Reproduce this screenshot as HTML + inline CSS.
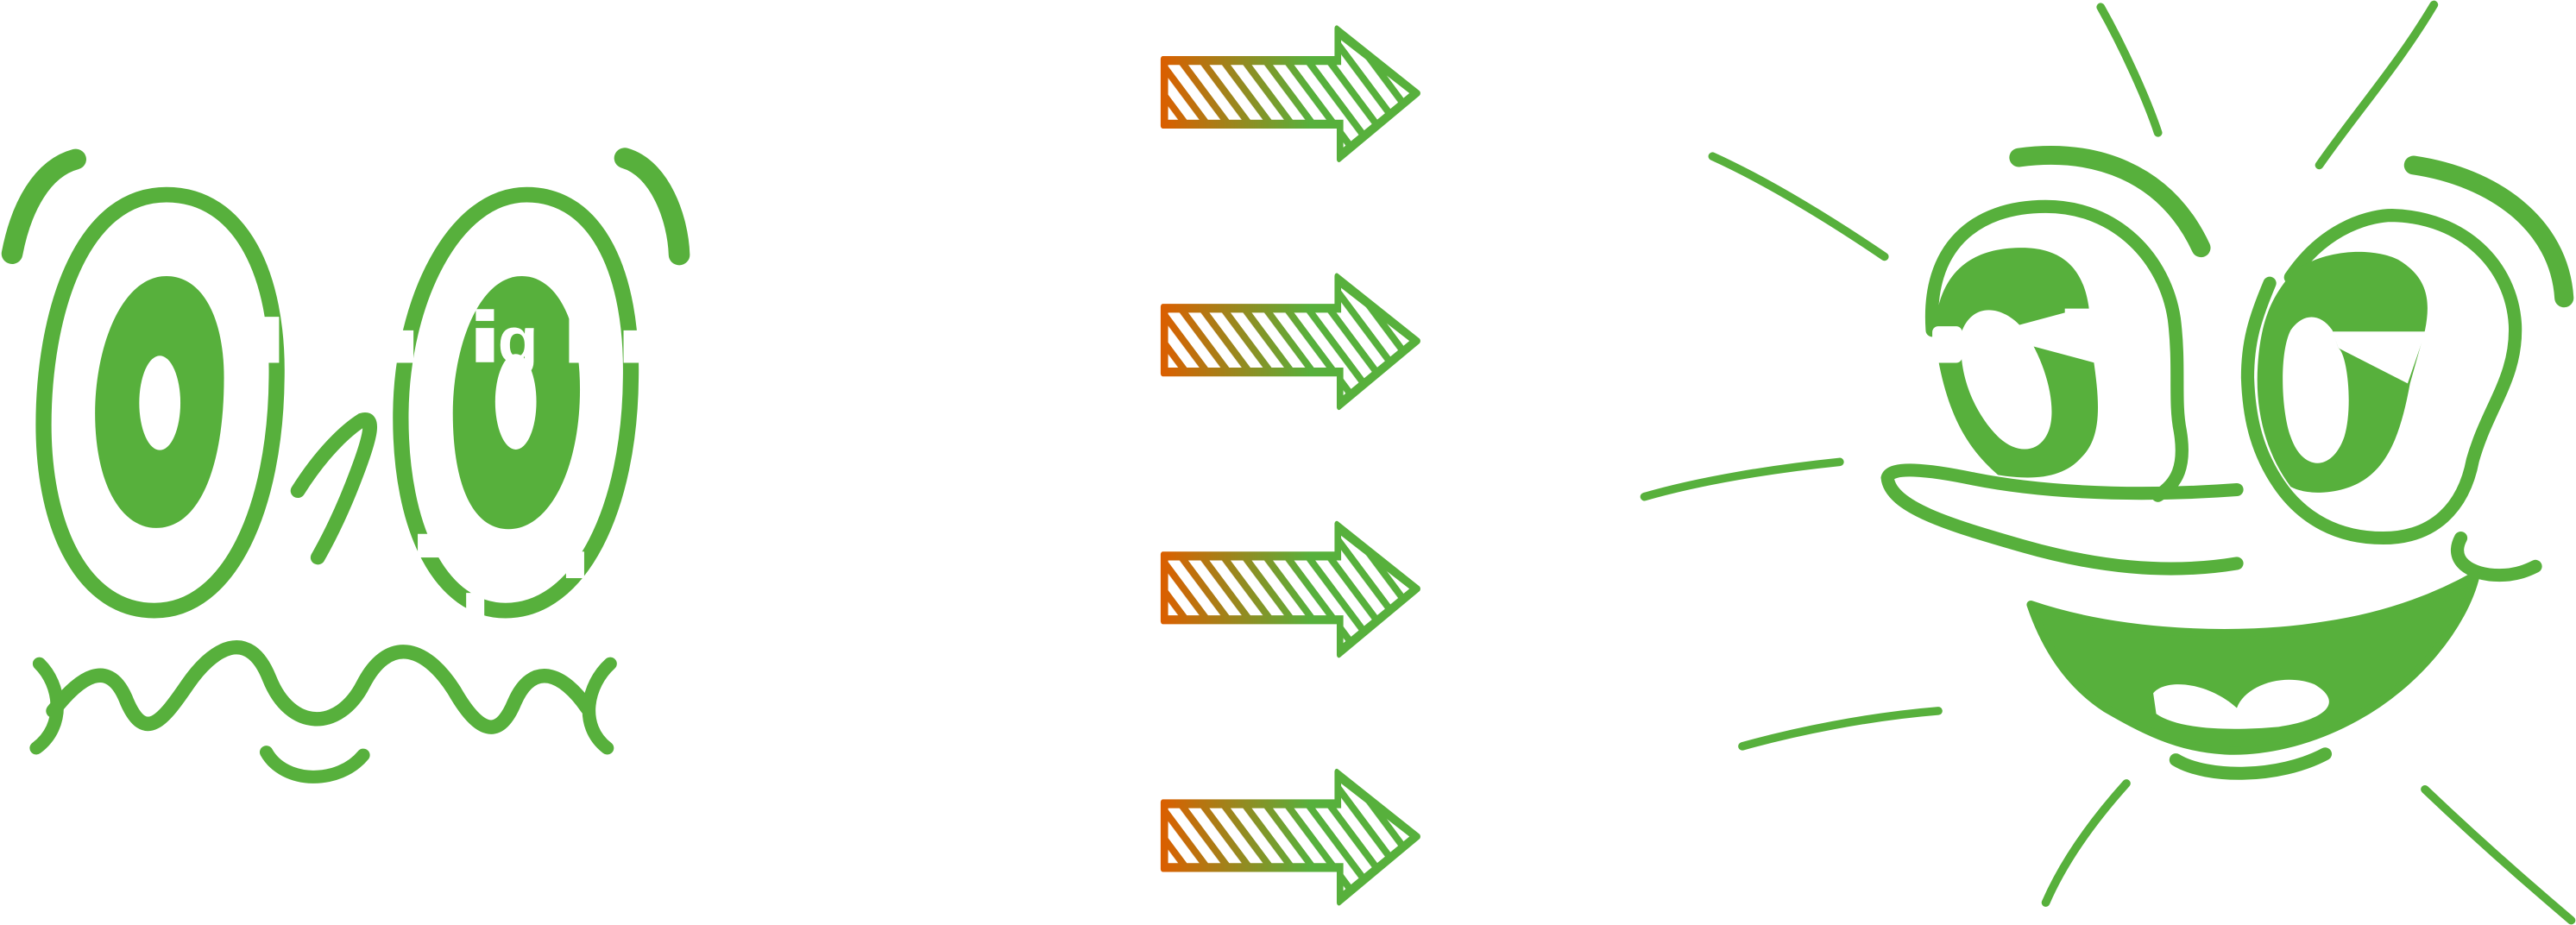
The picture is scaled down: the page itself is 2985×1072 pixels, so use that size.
<!DOCTYPE html>
<html><head><meta charset="utf-8"><style>
html,body{margin:0;padding:0;background:#fff;}
svg{display:block;}
</style></head><body>
<svg width="2985" height="1072" viewBox="0 0 2985 1072" xmlns="http://www.w3.org/2000/svg">
<defs>
<linearGradient id="ag" gradientUnits="userSpaceOnUse" x1="485" y1="0" x2="820" y2="0">
<stop offset="0" stop-color="#da5f00"/><stop offset="1" stop-color="#57b03c"/>
</linearGradient>
<pattern id="st" patternUnits="userSpaceOnUse" width="34" height="34" patternTransform="rotate(-45)">
<rect x="0" y="0" width="20" height="34" fill="#fff"/>
</pattern>
<g id="arrow">
<path d="M485 100 L880 100 L880 48 L1065 158 L885 270 L885 213 L485 213 Z" fill="url(#ag)"/>
<path d="M497 110 L890 110 L890 68 L1045 158 L895 250 L895 203 L497 203 Z" fill="url(#st)"/>
<path d="M485 100 L880 100 L880 48 L1065 158 L885 270 L885 213 L485 213 Z" fill="none" stroke="url(#ag)" stroke-width="10" stroke-linejoin="round"/>
</g>
</defs>
<rect width="2985" height="1072" fill="#fff"/>

<!-- LEFT FACE -->
<g transform="scale(0.7015,0.6837)" fill="none" stroke="#57b03c" stroke-linecap="round">
<path d="M125 270 C70 285 35 350 20 430" stroke-width="35"/>
<path d="M1032 268 C1090 285 1120 370 1122 432" stroke-width="35"/>
<path d="M275 330 C130 330 72 540 72 720 C72 900 140 1035 255 1035 C380 1035 455 860 457 640 C460 470 400 330 275 330 Z" stroke-width="26"/>
<path d="M870 330 C750 330 664 510 662 700 C660 900 730 1035 835 1035 C960 1035 1040 860 1042 640 C1045 470 990 330 870 330 Z" stroke-width="26"/>
<path d="M275 468 C200 468 157 590 157 700 C157 820 200 895 258 895 C330 895 370 790 370 640 C370 540 335 468 275 468 Z" fill="#57b03c" stroke="none"/>
<ellipse cx="264" cy="683" rx="34" ry="80" fill="#fff" stroke="none"/>
<path d="M862 468 C790 468 748 590 748 700 C748 820 780 897 840 897 C910 897 958 790 958 660 C958 545 920 468 862 468 Z" fill="#57b03c" stroke="none"/>
<ellipse cx="852" cy="681" rx="34" ry="81" fill="#fff" stroke="none"/>
<path d="M492 832 C530 770 570 730 598 712 C620 705 612 740 590 800 C570 855 550 900 525 945" stroke-width="24"/>
<path d="M88 1205 C130 1150 180 1110 210 1190 C240 1260 270 1220 310 1160 C350 1100 410 1060 445 1150 C480 1240 560 1240 600 1160 C640 1080 700 1090 750 1170 C800 1260 830 1240 850 1190 C880 1120 930 1140 970 1200" stroke-width="24"/>
<path d="M65 1125 C100 1160 110 1230 60 1268" stroke-width="22"/>
<path d="M1008 1125 C970 1160 955 1230 1003 1268" stroke-width="22"/>
<path d="M440 1275 C470 1330 560 1330 600 1280" stroke-width="22"/>
<g fill="#fff" stroke="none">
<rect x="433" y="537" width="28" height="78"/>
<rect x="655" y="560" width="28" height="55"/>
<rect x="786" y="524" width="30" height="20"/>
<rect x="786" y="556" width="30" height="58"/>
<rect x="940" y="537" width="18" height="78"/>
<rect x="1030" y="560" width="25" height="55"/>
<rect x="690" y="905" width="40" height="40"/>
<rect x="770" y="1005" width="30" height="40"/>
<rect x="935" y="935" width="30" height="45"/>
</g>
<text x="822" y="614" font-family="Liberation Sans, sans-serif" font-weight="bold" font-size="110" fill="#fff" stroke="none">g</text>
</g>

<!-- ARROWS -->
<g transform="translate(1100,0) scale(0.5102,0.6837)">
<use href="#arrow"/>
<use href="#arrow" y="420"/>
<use href="#arrow" y="840"/>
<use href="#arrow" y="1260"/>
</g>

<!-- RIGHT FACE -->
<g transform="translate(1900,0) scale(0.692,0.6837)" fill="none" stroke="#57b03c" stroke-linecap="round">
<g stroke-width="14">
<path d="M772 12 C810 80 850 170 868 225"/>
<path d="M1330 8 C1270 110 1200 190 1138 280"/>
<path d="M122 265 C220 310 330 380 410 435"/>
<path d="M335 783 C220 795 100 815 8 842"/>
<path d="M500 1205 C380 1215 260 1240 172 1265"/>
<path d="M815 1328 C760 1390 710 1460 680 1530"/>
<path d="M1315 1338 C1400 1420 1490 1500 1560 1560"/>
</g>
<path d="M635 267 C760 250 880 290 940 420" stroke-width="32"/>
<path d="M1296 280 C1430 300 1540 380 1548 505" stroke-width="32"/>
<path d="M490 560 C480 420 560 350 680 350 C800 350 880 440 895 540 C905 620 895 680 905 730 C915 790 900 820 868 840" stroke-width="22"/>
<path d="M500 520 C520 440 580 420 640 420 C720 420 745 470 752 520 L760 610 C770 680 775 740 740 775 C710 810 660 815 600 805 C560 770 520 720 500 610 Z" fill="#57b03c" stroke="none"/>
<path d="M540 560 C560 510 610 520 640 555 C680 610 700 690 685 730 C670 770 630 770 600 740 C560 700 530 630 540 560 Z" fill="#fff" stroke="none"/>
<g fill="#fff" stroke="none">
<rect x="490" y="553" width="50" height="62" rx="10"/>
<polygon points="620,555 712,530 712,523 755,523 762,615 640,582"/>
</g>
<path d="M1000 830 C800 845 650 830 560 812 C480 795 420 790 415 810 C420 860 520 890 640 925 C760 960 880 975 1000 955" stroke-width="22"/>
<path d="M1090 470 C1150 380 1230 365 1260 365 C1380 368 1460 450 1466 550 C1470 640 1420 690 1395 780 C1380 860 1330 912 1245 912 C1170 912 1110 880 1070 820 C1030 760 1020 700 1018 640 C1018 580 1030 540 1055 480" stroke-width="22"/>
<path d="M1095 460 C1150 420 1230 420 1270 440 C1320 470 1325 510 1315 560 L1290 650 C1270 760 1240 830 1140 835 C1110 835 1095 828 1090 825 C1050 770 1030 700 1035 620 C1040 540 1060 500 1095 460 Z" fill="#57b03c" stroke="none"/>
<path d="M1160 560 C1140 530 1110 530 1090 560 C1070 600 1075 700 1090 740 C1110 800 1160 800 1180 740 C1195 690 1185 600 1170 590 Z" fill="#fff" stroke="none"/>
<polygon points="1160,562 1316,562 1286,650 1170,590" fill="#fff" stroke="none"/>
<path d="M1375 912 C1355 950 1390 975 1440 975 C1470 975 1490 965 1500 960" stroke-width="22"/>
<path d="M655 1025 C800 1075 1000 1085 1150 1060 C1250 1045 1330 1015 1400 975 C1380 1060 1300 1160 1200 1215 C1120 1260 1040 1275 980 1272 C900 1268 840 1235 780 1200 C720 1160 680 1100 655 1025 Z" fill="#57b03c" stroke="#57b03c" stroke-width="14" stroke-linejoin="round"/>
<path d="M860 1175 C880 1150 950 1155 1000 1200 C1015 1160 1080 1140 1130 1160 C1180 1190 1150 1220 1070 1232 C980 1240 900 1235 865 1210 Z" fill="#fff" stroke="none"/>
<path d="M898 1288 C950 1320 1070 1320 1148 1278" stroke-width="22"/>
</g>
</svg>
</body></html>
